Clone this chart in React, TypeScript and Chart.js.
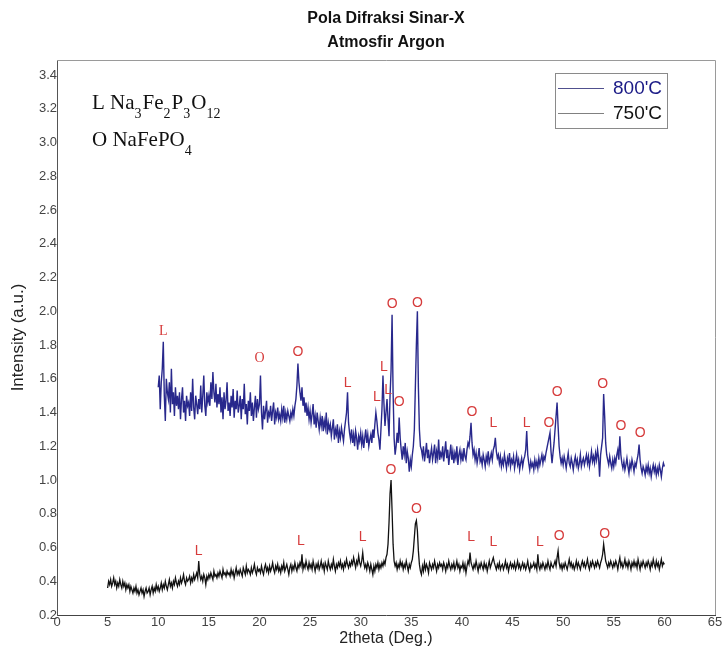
import React, { useEffect, useRef } from 'react';
import { Chart, registerables } from 'chart.js';

Chart.register(...registerables);

// ---------- data ----------
const X_STEP = 0.1;
const X_START_800 = 10.0;
const X_START_750 = 5.0;

// 800'C, 2theta 10.0 .. 60.0 step 0.1
const intensity800 = [
  1.55,1.62,1.42,1.58,1.66,1.82,1.50,1.35,1.60,1.52,
  1.48,1.58,1.40,1.66,1.45,1.52,1.38,1.55,1.44,1.50,
  1.42,1.52,1.36,1.48,1.55,1.40,1.47,1.35,1.50,1.44,
  1.46,1.38,1.52,1.41,1.60,1.43,1.36,1.50,1.45,1.39,
  1.48,1.42,1.56,1.40,1.50,1.62,1.44,1.38,1.52,1.46,
  1.50,1.44,1.58,1.48,1.64,1.52,1.46,1.57,1.43,1.51,
  1.45,1.55,1.40,1.49,1.36,1.52,1.42,1.47,1.58,1.41,
  1.46,1.38,1.50,1.43,1.54,1.37,1.47,1.42,1.53,1.40,
  1.44,1.50,1.36,1.48,1.42,1.57,1.39,1.45,1.33,1.47,
  1.41,1.52,1.38,1.46,1.35,1.43,1.50,1.37,1.48,1.42,
  1.45,1.62,1.40,1.30,1.44,1.36,1.41,1.47,1.34,1.40,
  1.38,1.44,1.35,1.41,1.46,1.33,1.40,1.37,1.43,1.36,
  1.39,1.35,1.42,1.37,1.44,1.34,1.40,1.36,1.41,1.38,
  1.35,1.40,1.37,1.42,1.38,1.44,1.48,1.56,1.69,1.58,
  1.52,1.47,1.55,1.44,1.49,1.40,1.46,1.38,1.43,1.36,
  1.41,1.34,1.39,1.45,1.33,1.38,1.31,1.40,1.35,1.30,
  1.37,1.32,1.38,1.29,1.35,1.31,1.40,1.27,1.34,1.30,
  1.33,1.26,1.31,1.36,1.24,1.30,1.27,1.33,1.22,1.29,
  1.25,1.31,1.27,1.23,1.30,1.35,1.40,1.52,1.34,1.28,
  1.24,1.30,1.22,1.27,1.20,1.29,1.25,1.18,1.26,1.23,
  1.28,1.21,1.26,1.19,1.25,1.30,1.22,1.27,1.20,1.24,
  1.27,1.22,1.30,1.25,1.33,1.40,1.35,1.28,1.24,1.18,
  1.30,1.42,1.62,1.45,1.32,1.40,1.48,1.36,1.26,1.50,
  1.65,1.98,1.52,1.25,1.15,1.20,1.28,1.22,1.37,1.25,
  1.18,1.12,1.20,1.15,1.22,1.10,1.17,1.13,1.05,1.12,
  1.08,1.15,1.20,1.30,1.55,1.80,2.00,1.55,1.30,1.20,
  1.18,1.14,1.20,1.11,1.16,1.22,1.13,1.18,1.10,1.15,
  1.19,1.12,1.16,1.21,1.10,1.17,1.13,1.24,1.12,1.16,
  1.14,1.20,1.11,1.17,1.23,1.13,1.18,1.09,1.15,1.21,
  1.12,1.17,1.10,1.16,1.13,1.20,1.09,1.15,1.18,1.12,
  1.16,1.11,1.19,1.14,1.12,1.18,1.22,1.20,1.26,1.34,
  1.22,1.15,1.18,1.12,1.16,1.10,1.14,1.19,1.11,1.13,
  1.09,1.15,1.12,1.08,1.14,1.11,1.17,1.10,1.13,1.16,
  1.12,1.18,1.20,1.25,1.17,1.13,1.15,1.10,1.14,1.08,
  1.12,1.09,1.15,1.11,1.07,1.13,1.10,1.16,1.08,1.12,
  1.10,1.14,1.07,1.11,1.15,1.09,1.12,1.06,1.10,1.13,
  1.08,1.12,1.14,1.18,1.29,1.15,1.10,1.06,1.11,1.08,
  1.10,1.06,1.12,1.08,1.11,1.07,1.13,1.09,1.12,1.15,
  1.10,1.14,1.12,1.16,1.19,1.22,1.25,1.28,1.17,1.10,
  1.16,1.22,1.30,1.38,1.46,1.32,1.20,1.14,1.10,1.13,
  1.09,1.14,1.11,1.07,1.12,1.16,1.10,1.08,1.13,1.10,
  1.06,1.11,1.14,1.09,1.12,1.07,1.10,1.15,1.08,1.11,
  1.13,1.09,1.12,1.15,1.10,1.14,1.08,1.12,1.17,1.11,
  1.14,1.10,1.16,1.12,1.18,1.13,1.02,1.15,1.20,1.25,
  1.51,1.38,1.22,1.15,1.12,1.09,1.14,1.10,1.07,1.12,
  1.08,1.13,1.10,1.15,1.18,1.12,1.26,1.15,1.10,1.07,
  1.11,1.06,1.09,1.13,1.08,1.04,1.10,1.07,1.12,1.09,
  1.05,1.10,1.08,1.12,1.15,1.21,1.12,1.07,1.04,1.08,
  1.06,1.03,1.08,1.05,1.09,1.04,1.07,1.02,1.06,1.09,
  1.05,1.08,1.03,1.07,1.04,1.09,1.06,1.02,1.07,1.10,
  1.08,
];

// 750'C, 2theta 5.0 .. 60.0 step 0.1
const intensity750 = [
  0.36,0.40,0.38,0.41,0.37,0.39,0.42,0.38,0.40,0.36,
  0.39,0.37,0.41,0.38,0.36,0.40,0.37,0.39,0.35,0.38,
  0.36,0.38,0.34,0.37,0.35,0.33,0.36,0.34,0.37,0.33,
  0.35,0.32,0.34,0.36,0.33,0.35,0.31,0.34,0.36,0.33,
  0.34,0.36,0.32,0.35,0.37,0.33,0.36,0.34,0.38,0.35,
  0.37,0.34,0.36,0.39,0.35,0.38,0.36,0.40,0.37,0.35,
  0.38,0.41,0.37,0.39,0.36,0.40,0.38,0.42,0.39,0.37,
  0.40,0.38,0.42,0.39,0.41,0.44,0.40,0.38,0.42,0.40,
  0.41,0.43,0.39,0.42,0.40,0.44,0.41,0.43,0.45,0.42,
  0.52,0.44,0.41,0.43,0.40,0.44,0.42,0.38,0.43,0.41,
  0.44,0.42,0.45,0.43,0.41,0.46,0.43,0.44,0.42,0.45,
  0.43,0.46,0.44,0.42,0.47,0.44,0.45,0.43,0.46,0.44,
  0.45,0.43,0.47,0.44,0.46,0.42,0.45,0.48,0.44,0.46,
  0.44,0.47,0.45,0.43,0.48,0.46,0.44,0.49,0.45,0.47,
  0.46,0.44,0.48,0.45,0.47,0.50,0.46,0.44,0.48,0.46,
  0.47,0.45,0.49,0.46,0.44,0.48,0.50,0.46,0.48,0.45,
  0.49,0.46,0.48,0.51,0.47,0.45,0.49,0.47,0.50,0.46,
  0.48,0.45,0.49,0.47,0.51,0.46,0.48,0.50,0.47,0.44,
  0.48,0.50,0.46,0.49,0.47,0.51,0.48,0.46,0.50,0.48,
  0.51,0.49,0.56,0.47,0.50,0.48,0.52,0.49,0.47,0.51,
  0.48,0.50,0.47,0.52,0.49,0.46,0.50,0.48,0.51,0.47,
  0.49,0.52,0.48,0.50,0.46,0.51,0.49,0.47,0.52,0.49,
  0.47,0.50,0.48,0.53,0.49,0.46,0.50,0.48,0.51,0.49,
  0.52,0.48,0.50,0.47,0.51,0.49,0.53,0.50,0.48,0.51,
  0.49,0.52,0.50,0.54,0.51,0.48,0.52,0.50,0.55,0.51,
  0.49,0.52,0.57,0.51,0.48,0.50,0.47,0.51,0.49,0.46,
  0.50,0.47,0.44,0.49,0.46,0.50,0.48,0.51,0.47,0.50,
  0.48,0.51,0.49,0.52,0.50,0.54,0.56,0.62,0.75,0.92,
  1.00,0.82,0.62,0.52,0.49,0.51,0.47,0.50,0.48,0.52,
  0.49,0.51,0.47,0.50,0.48,0.52,0.49,0.46,0.50,0.48,
  0.51,0.53,0.58,0.66,0.74,0.76,0.70,0.58,0.50,0.46,
  0.44,0.49,0.46,0.51,0.47,0.50,0.48,0.45,0.51,0.49,
  0.47,0.50,0.48,0.52,0.49,0.46,0.50,0.48,0.51,0.49,
  0.50,0.47,0.51,0.49,0.46,0.50,0.48,0.52,0.49,0.47,
  0.50,0.48,0.51,0.47,0.49,0.52,0.48,0.50,0.46,0.49,
  0.48,0.51,0.47,0.50,0.45,0.49,0.52,0.50,0.57,0.51,
  0.49,0.47,0.50,0.48,0.52,0.49,0.46,0.50,0.48,0.51,
  0.49,0.47,0.51,0.48,0.50,0.46,0.49,0.52,0.48,0.50,
  0.52,0.54,0.51,0.49,0.47,0.50,0.48,0.51,0.47,0.49,
  0.50,0.47,0.49,0.52,0.48,0.50,0.46,0.49,0.51,0.48,
  0.50,0.48,0.51,0.47,0.49,0.52,0.48,0.50,0.47,0.49,
  0.51,0.48,0.50,0.47,0.49,0.52,0.48,0.46,0.50,0.48,
  0.49,0.51,0.48,0.50,0.47,0.56,0.49,0.47,0.50,0.48,
  0.51,0.49,0.47,0.50,0.48,0.52,0.49,0.47,0.51,0.49,
  0.48,0.50,0.52,0.49,0.54,0.58,0.51,0.48,0.50,0.47,
  0.50,0.48,0.51,0.49,0.47,0.50,0.53,0.49,0.51,0.48,
  0.50,0.47,0.49,0.52,0.48,0.51,0.49,0.47,0.50,0.52,
  0.49,0.51,0.48,0.50,0.53,0.49,0.47,0.51,0.49,0.52,
  0.50,0.48,0.51,0.49,0.52,0.50,0.48,0.51,0.53,0.56,
  0.62,0.57,0.52,0.50,0.48,0.51,0.49,0.52,0.50,0.48,
  0.51,0.49,0.52,0.50,0.47,0.51,0.54,0.49,0.51,0.48,
  0.50,0.53,0.49,0.51,0.48,0.52,0.50,0.47,0.51,0.49,
  0.52,0.49,0.51,0.48,0.53,0.50,0.47,0.51,0.49,0.52,
  0.50,0.48,0.51,0.49,0.52,0.50,0.47,0.51,0.49,0.53,
  0.50,0.48,0.52,0.49,0.51,0.47,0.50,0.53,0.49,0.51,
  0.50,
];

const seriesNames = ["800'C", "750'C"];
const titleLines = ['Pola Difraksi Sinar-X', 'Atmosfir Argon'];
const xAxisTitle = '2theta (Deg.)';
const yAxisTitle = 'Intensity (a.u.)';
const xTickValues = [0, 5, 10, 15, 20, 25, 30, 35, 40, 45, 50, 55, 60, 65];
const yTickValues = [0.2, 0.4, 0.6, 0.8, 1.0, 1.2, 1.4, 1.6, 1.8, 2.0, 2.2, 2.4, 2.6, 2.8, 3.0, 3.2, 3.4];

// phase key: [text, isSubscript]
const phaseKeyL: [string, boolean][] = [['L Na', false], ['3', true], ['Fe', false], ['2', true], ['P', false], ['3', true], ['O', false], ['12', true]];
const phaseKeyO: [string, boolean][] = [['O NaFePO', false], ['4', true]];

// peak markers (phase letter at 2theta / intensity)
const marks800Text = ['L', 'O', 'O', 'L', 'L', 'L', 'L', 'O', 'O', 'O', 'O', 'L', 'L', 'O', 'O', 'O', 'O', 'O'];
const marks800X = [10.5, 20.0, 23.8, 28.7, 31.6, 32.3, 32.7, 33.1, 33.8, 35.6, 41.0, 43.1, 46.4, 48.6, 49.4, 53.9, 55.7, 57.6];
const marks800Y = [1.88, 1.72, 1.76, 1.575, 1.49, 1.67, 1.53, 2.04, 1.46, 2.05, 1.40, 1.34, 1.34, 1.34, 1.52, 1.57, 1.32, 1.28];
const marks750Text = ['L', 'L', 'L', 'O', 'O', 'L', 'L', 'L', 'O', 'O'];
const marks750X = [14.0, 24.1, 30.2, 33.0, 35.5, 40.9, 43.1, 47.7, 49.6, 54.1];
const marks750Y = [0.58, 0.64, 0.66, 1.06, 0.83, 0.66, 0.63, 0.63, 0.67, 0.68];

const SANS = '"Liberation Sans", Arial, sans-serif';
const SERIF = '"Liberation Serif", "Times New Roman", serif';
const RED = '#d63b3b';
const BLUE = '#1a1a86';

function toPoints(start: number, values: number[]) {
  return values.map((v, i) => ({ x: +(start + i * X_STEP).toFixed(2), y: v }));
}

const decorPlugin = {
  id: 'decor',
  afterDatasetsDraw(chart: any) {
    const { ctx, chartArea, scales } = chart;
    const { left, right, top, bottom } = chartArea;
    const xs = scales.x;
    const ys = scales.y;
    ctx.save();

    // top & right frame
    ctx.strokeStyle = '#9a9a9a';
    ctx.lineWidth = 1;
    ctx.beginPath();
    ctx.moveTo(left, top + 0.5);
    ctx.lineTo(right + 0.5, top + 0.5);
    ctx.lineTo(right + 0.5, bottom);
    ctx.stroke();

    // peak markers
    ctx.fillStyle = RED;
    ctx.textAlign = 'center';
    ctx.textBaseline = 'middle';
    const drawMarks = (texts: string[], xv: number[], yv: number[], serifFirst: number) => {
      texts.forEach((t, i) => {
        ctx.font = i < serifFirst ? `14px ${SERIF}` : `14px ${SANS}`;
        ctx.fillText(t, xs.getPixelForValue(xv[i]), ys.getPixelForValue(yv[i]));
      });
    };
    drawMarks(marks800Text, marks800X, marks800Y, 2);
    drawMarks(marks750Text, marks750X, marks750Y, 0);

    // phase key
    ctx.fillStyle = '#111';
    ctx.textAlign = 'left';
    ctx.textBaseline = 'alphabetic';
    const drawKey = (segs: [string, boolean][], x0: number, y0: number) => {
      let x = x0;
      segs.forEach(([txt, sub]) => {
        ctx.font = sub ? `14px ${SERIF}` : `21px ${SERIF}`;
        ctx.fillText(txt, x, sub ? y0 + 9 : y0);
        x += ctx.measureText(txt).width + (sub ? 1 : 0);
      });
    };
    drawKey(phaseKeyL, left + 35, top + 49);
    drawKey(phaseKeyO, left + 35, top + 86);

    // legend box
    const bx = right - 160;
    const by = top + 13;
    ctx.strokeStyle = '#8a8a8a';
    ctx.lineWidth = 1;
    ctx.strokeRect(bx + 0.5, by + 0.5, 112, 55);
    const rows = [
      { name: seriesNames[0], line: '#50508e', text: BLUE, y: by + 15 },
      { name: seriesNames[1], line: '#808080', text: '#111', y: by + 40 },
    ];
    ctx.font = `19px ${SANS}`;
    ctx.textBaseline = 'middle';
    rows.forEach((r) => {
      ctx.strokeStyle = r.line;
      ctx.beginPath();
      ctx.moveTo(bx + 3, r.y + 0.5);
      ctx.lineTo(bx + 49, r.y + 0.5);
      ctx.stroke();
      ctx.fillStyle = r.text;
      ctx.fillText(r.name, bx + 58, r.y + 1);
    });

    ctx.restore();
  },
};

export default function App() {
  const canvasRef = useRef<HTMLCanvasElement | null>(null);

  useEffect(() => {
    const canvas = canvasRef.current;
    if (!canvas) return;
    const chart = new Chart(canvas, {
      type: 'line',
      data: {
        datasets: [
          {
            label: seriesNames[0],
            data: toPoints(X_START_800, intensity800),
            borderColor: 'rgba(22,22,130,0.92)',
            borderWidth: 1.4,
            pointRadius: 0,
            fill: false,
            tension: 0,
          },
          {
            label: seriesNames[1],
            data: toPoints(X_START_750, intensity750),
            borderColor: '#111111',
            borderWidth: 1.3,
            pointRadius: 0,
            fill: false,
            tension: 0,
          },
        ],
      },
      options: {
        responsive: false,
        animation: false,
        layout: { padding: { left: 0, right: 10, top: 0, bottom: 0 } },
        plugins: {
          legend: { display: false },
          tooltip: { enabled: false },
          title: {
            display: true,
            text: titleLines,
            fullSize: false,
            color: '#111',
            font: { family: SANS, size: 16, weight: 'bold', lineHeight: 1.5 },
            padding: { top: 7, bottom: 5 },
          },
        },
        scales: {
          x: {
            type: 'linear',
            min: 0,
            max: 65,
            afterBuildTicks: (s: any) => {
              s.ticks = xTickValues.map((v) => ({ value: v }));
            },
            afterFit: (s: any) => {
              s.height = 39;
            },
            grid: { display: false, drawTicks: false },
            border: { display: true, color: '#444', width: 1 },
            ticks: {
              padding: 0,
              color: '#444',
              maxRotation: 0,
              autoSkip: false,
              font: { family: SANS, size: 13 },
              callback: (v: any) => String(v),
            },
            title: {
              display: true,
              text: xAxisTitle,
              color: '#222',
              font: { family: SANS, size: 16, lineHeight: 1.2 },
              padding: { top: 0, bottom: 6 },
            },
          },
          y: {
            type: 'linear',
            min: 0.2,
            max: 3.49,
            afterBuildTicks: (s: any) => {
              s.ticks = yTickValues.map((v) => ({ value: v }));
            },
            afterFit: (s: any) => {
              s.width = 57;
            },
            grid: { display: false, drawTicks: false },
            border: { display: true, color: '#555', width: 1 },
            ticks: {
              padding: 0,
              color: '#444',
              autoSkip: false,
              font: { family: SANS, size: 13 },
              callback: (v: any) => Number(v).toFixed(1),
            },
            title: {
              display: true,
              text: yAxisTitle,
              color: '#222',
              font: { family: SANS, size: 17, lineHeight: 1.2 },
              padding: { top: 8, bottom: 0 },
            },
          },
        },
      } as any,
      plugins: [decorPlugin],
    });
    return () => chart.destroy();
  }, []);

  return (
    <div style={{ position: 'fixed', left: 0, top: 0, width: 725, height: 654, background: '#fff' }}>
      <canvas ref={canvasRef} width={725} height={654} style={{ display: 'block', width: 725, height: 654 }} />
    </div>
  );
}
